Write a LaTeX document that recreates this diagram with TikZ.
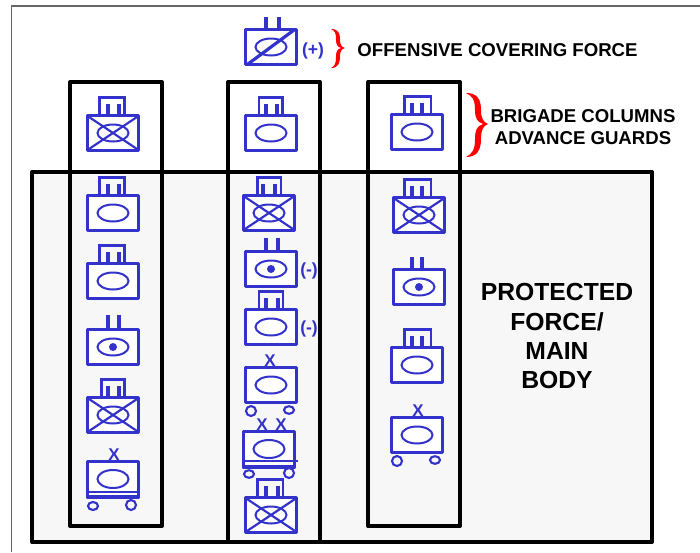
\documentclass[tikz,border=0pt]{standalone}
\usepackage{fontspec}
\setmainfont{Liberation Sans}
\definecolor{symblue}{HTML}{3333CC}
\definecolor{panel}{HTML}{F7F7F7}
\definecolor{framegray}{HTML}{666666}
\tikzset{
  frameline/.style={draw=framegray,line width=1.8pt},
  mainbox/.style={draw=black,fill=panel,line width=4pt,line join=round},
  column/.style={draw=black,line width=4pt,line join=round},
  unitframe/.style={draw=symblue,fill=white,line width=3.9pt,line join=round},
  oval/.style={draw=symblue,line width=2pt},
  stemline/.style={draw=symblue,line width=3.2pt},
  capline/.style={draw=symblue,line width=2.2pt},
  crossline/.style={draw=symblue,line width=2.2pt},
  slashline/.style={draw=symblue,line width=3.2pt},
  wheel/.style={draw=symblue,line width=2.1pt},
  bluelabel/.style={text=symblue,font=\bfseries\fontsize{17.5}{20}\selectfont,inner sep=0pt,anchor=base},
  echelon/.style={text=symblue,font=\bfseries\fontsize{17}{20}\selectfont,inner sep=0pt,anchor=base},
  blacklabel/.style={text=black,font=\bfseries\fontsize{18.6}{20}\selectfont,inner sep=0pt,anchor=base},
  biglabel/.style={text=black,font=\bfseries\fontsize{24.7}{28}\selectfont,inner sep=0pt,anchor=base},
  pics/body/.style={code={
    \draw[unitframe] (-25.5,-17.5) rectangle (25.5,17.5);
    \draw[oval] (0,0) ellipse (15.5 and 8.5);}},
  pics/trackbody/.style={code={
    \draw[unitframe] (-25.5,-17.5) rectangle (25.5,18);
    \draw[oval] (0,0) ellipse (15.5 and 9);}},
  pics/crossed/.style={code={
    \draw[crossline] (-24,-16) -- (24,16);
    \draw[crossline] (-24,16) -- (24,-16);}},
  pics/slashed/.style={code={
    \draw[slashline] (-23,17) -- (23,-17);}},
  pics/eye/.style={code={\fill[symblue] (0,0) circle (4);}},
  pics/stems/.style n args={3}{code={
    \draw[stemline] (#1,#3) -- (#1,-17);
    \draw[stemline] (#2,#3) -- (#2,-17);}},
  pics/capped/.style n args={4}{code={
    \draw[capline] (#1,-17) -- (#1,-35.5) -- (#2,-35.5) -- (#2,-17);
    \draw[stemline] (#3,-29) -- (#3,-17);
    \draw[stemline] (#4,-29) -- (#4,-17);}},
}
\begin{document}
\begin{tikzpicture}[x=1pt,y=-1pt]
\useasboundingbox (0,0) rectangle (700,552);
\fill[white] (0,0) rectangle (700,552);
% outer frame
\draw[frameline] (11.5,552) -- (11.5,6) -- (700,6);
% panels
\draw[mainbox] (32,172) rectangle (652,542);
\draw[column] (70,82) rectangle (162,526);
\draw[column] (228,82) rectangle (320,542);
\draw[column] (368,82) rectangle (460,526);

% top symbol
\pic at (271,47) {stems={-5}{8}{-30}};
\pic at (271,47) {body};
\pic at (271,47) {slashed};

% column 1
\pic at (113,133) {capped={-13.5}{11.5}{-5}{6}};
\pic at (113,133) {body};
\pic at (113,133) {crossed};
\pic at (113,213) {capped={-13.5}{11.5}{-5}{6}};
\pic at (113,213) {body};
\pic at (113,281) {capped={-13.5}{11.5}{-5}{6}};
\pic at (113,281) {body};
\pic at (113,347) {stems={-5}{6}{-32}};
\pic at (113,347) {body};
\pic at (113,347) {eye};
\pic at (113,415) {capped={-11.5}{11.5}{-5}{6}};
\pic at (113,415) {body};
\pic at (113,415) {crossed};
\pic at (113,479) {trackbody};
\draw[capline] (88,492) -- (138,492);
\draw[wheel] (93,506) ellipse (5 and 4);
\draw[wheel] (131,505) circle (5);

% column 2
\pic at (271,133) {capped={-12}{11.5}{-5}{6}};
\pic at (271,133) {body};
\pic at (269,213) {capped={-11.5}{12}{-6}{6}};
\pic at (269,213) {body};
\pic at (269,213) {crossed};
\pic at (271,269) {stems={-5}{7}{-31}};
\pic at (271,269) {body};
\pic at (271,269) {eye};
\pic at (271,327) {capped={-12}{12}{-5}{7}};
\pic at (271,327) {body};
\pic at (271,385) {body};
\draw[wheel] (251,411) circle (5);
\draw[wheel] (289,410) ellipse (5 and 3.8);
\pic at (269,449) {trackbody};
\draw[capline] (244,461) -- (298,461);
\draw[wheel] (249,474) ellipse (5 and 3.8);
\draw[wheel] (289,473) circle (5);
\pic at (271,515) {capped={-13.5}{12}{-5}{7}};
\pic at (271,515) {body};
\pic at (271,515) {crossed};

% column 3
\pic at (417,132) {capped={-12.5}{14}{-5}{5}};
\pic at (417,132) {body};
\pic at (419,215) {capped={-14.5}{12}{-7}{3}};
\pic at (419,215) {body};
\pic at (419,215) {crossed};
\pic at (419,287) {stems={-7}{3}{-30}};
\pic at (419,287) {body};
\pic at (419,287) {eye};
\pic at (417,365) {capped={-12.5}{14}{-5}{5}};
\pic at (417,365) {body};
\pic at (417,435) {body};
\draw[wheel] (397,461) circle (5);
\draw[wheel] (435,460) ellipse (5 and 3.8);

% echelon marks
\node[echelon] (xa) at (114,460.5) {X};
\node[echelon] (xb) at (270,366) {X};
\node[echelon] (xc) at (262,430) {X};
\node[echelon] (xd) at (281,430) {X};
\node[echelon] (xe) at (418,416) {X};

% size modifiers
\node[bluelabel] (plus) at (313,55) {(+)};
\node[bluelabel] (minusa) at (309,275) {(-)};
\node[bluelabel] (minusb) at (309,333) {(-)};

% braces
\fill[red] (331,29) .. controls (338,29) and (340,33) .. (340,39)
  .. controls (340,44) and (341,47) .. (345,48)
  .. controls (341,49) and (340,52) .. (340,57)
  .. controls (340,63) and (338,68) .. (331,68)
  .. controls (335,66) and (336,63) .. (336,57)
  .. controls (336,52) and (337,49) .. (341,48)
  .. controls (337,47) and (336,44) .. (336,39)
  .. controls (336,33) and (335,31) .. (331,29) -- cycle;
\fill[red] (466,93) .. controls (477,93) and (481,99) .. (481,110)
  .. controls (481,118) and (483,122) .. (488,124)
  .. controls (483,126) and (481,130) .. (481,139)
  .. controls (481,150) and (477,157) .. (466,157)
  .. controls (472,154) and (475,150) .. (475,139)
  .. controls (475,130) and (477,126) .. (483,124)
  .. controls (477,122) and (475,118) .. (475,110)
  .. controls (475,99) and (472,96) .. (466,93) -- cycle;

% captions
\node[blacklabel] (cover) at (497.5,56) {OFFENSIVE COVERING FORCE};
\node[blacklabel] (brig) at (583,122) {BRIGADE COLUMNS};
\node[blacklabel] (adv) at (583,144) {ADVANCE GUARDS};
\node[biglabel] (l1) at (557,300) {PROTECTED};
\node[biglabel] (l2) at (557,330) {FORCE/};
\node[biglabel] (l3) at (557,359) {MAIN};
\node[biglabel] (l4) at (557,388) {BODY};
\end{tikzpicture}
\end{document}
